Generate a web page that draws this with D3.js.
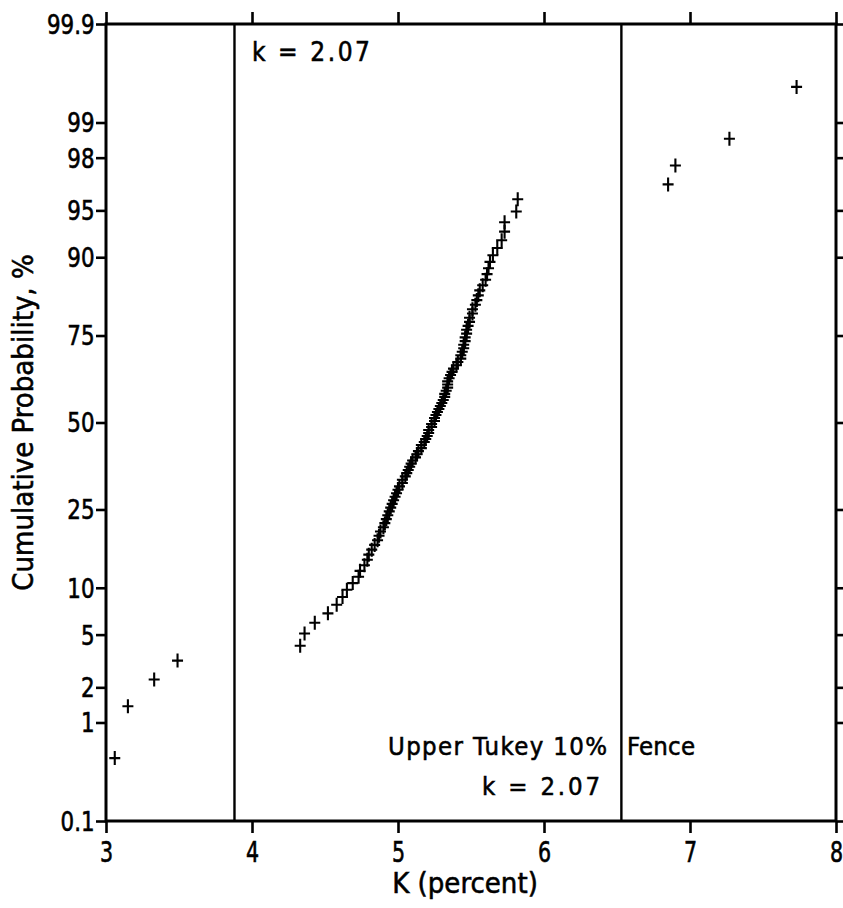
<!DOCTYPE html>
<html>
<head>
<meta charset="utf-8">
<script src="https://cdn.jsdelivr.net/npm/d3@7/dist/d3.min.js"></script>
<style>
  html, body { margin: 0; padding: 0; background: #fff; }
  svg { display: block; }
  text { font-family: "DejaVu Sans Condensed", "DejaVu Sans", sans-serif; font-stretch: condensed; fill: #000;
         stroke: #000; stroke-width: 0.55px; paint-order: stroke; }
</style>
</head>
<body>
<svg id="chart" width="843" height="908"></svg>
<script>
// ---- data ----
const probTicks = [0.1, 1, 2, 5, 10, 25, 50, 75, 90, 95, 98, 99, 99.9];
const probLabels = ["0.1", "1", "2", "5", "10", "25", "50", "75", "90", "95", "98", "99", "99.9"];
const xTicks = [3, 4, 5, 6, 7, 8];
const xTickLabels = ["3", "4", "5", "6", "7", "8"];
const fences = [3.88, 6.53];
// sorted sample of K (percent), n = 108
const kValues = [
  3.06, 3.15, 3.33, 3.49,
  4.33, 4.36, 4.43, 4.52, 4.58, 4.62, 4.65, 4.69, 4.73, 4.74,
  4.77, 4.79, 4.80, 4.82, 4.84, 4.86, 4.87, 4.88, 4.90, 4.91,
  4.92, 4.93, 4.94, 4.95, 4.96, 4.97, 4.98, 4.99, 5.00, 5.01,
  5.03, 5.03, 5.05, 5.06, 5.07, 5.08, 5.09, 5.10, 5.12, 5.13,
  5.14, 5.16, 5.16, 5.18, 5.19, 5.20, 5.21, 5.21, 5.23, 5.23,
  5.25, 5.25, 5.26, 5.27, 5.28, 5.29, 5.30, 5.31, 5.32, 5.32,
  5.33, 5.34, 5.34, 5.34, 5.35, 5.36, 5.37, 5.38, 5.40, 5.41,
  5.43, 5.43, 5.44, 5.45, 5.45, 5.46, 5.46, 5.47, 5.47, 5.48,
  5.49, 5.49, 5.51, 5.51, 5.53, 5.54, 5.55, 5.56, 5.58, 5.60,
  5.61, 5.62, 5.63, 5.65, 5.68, 5.71, 5.73, 5.73, 5.81, 5.82,
  6.85, 6.90, 7.27, 7.73
];
const annotTop = "k = 2.07";
const annotFence1 = "Upper Tukey 10%";
const annotFence2 = "Fence";
const annotFenceK = "k = 2.07";
const xTitle = "K (percent)";
const yTitle = "Cumulative Probability, %";

// ---- normal quantile (Acklam) ----
function probit(p) {
  const a = [-3.969683028665376e+01, 2.209460984245205e+02, -2.759285104469687e+02, 1.383577518672690e+02, -3.066479806614716e+01, 2.506628277459239e+00];
  const b = [-5.447609879822406e+01, 1.615858368580409e+02, -1.556989798598866e+02, 6.680131188771972e+01, -1.328068155288572e+01];
  const c = [-7.784894002430293e-03, -3.223964580411365e-01, -2.400758277161838e+00, -2.549732539343734e+00, 4.374664141464968e+00, 2.938163982698783e+00];
  const d = [7.784695709041462e-03, 3.224671290700398e-01, 2.445134137142996e+00, 3.754408661907416e+00];
  const pl = 0.02425, ph = 1 - pl;
  let q, r;
  if (p < pl) {
    q = Math.sqrt(-2 * Math.log(p));
    return (((((c[0]*q+c[1])*q+c[2])*q+c[3])*q+c[4])*q+c[5]) / ((((d[0]*q+d[1])*q+d[2])*q+d[3])*q+1);
  } else if (p <= ph) {
    q = p - 0.5; r = q*q;
    return (((((a[0]*r+a[1])*r+a[2])*r+a[3])*r+a[4])*r+a[5])*q / (((((b[0]*r+b[1])*r+b[2])*r+b[3])*r+b[4])*r+1);
  } else {
    q = Math.sqrt(-2 * Math.log(1 - p));
    return -(((((c[0]*q+c[1])*q+c[2])*q+c[3])*q+c[4])*q+c[5]) / ((((d[0]*q+d[1])*q+d[2])*q+d[3])*q+1);
  }
}

// ---- layout ----
const L = 106, R = 836, T = 24, B = 821;
const svg = d3.select("#chart");

const x = d3.scaleLinear().domain([3, 8]).range([L, R]);
const zScale = d3.scaleLinear().domain([probit(0.001), probit(0.999)]).range([B, T]);
const y = p => zScale(probit(p / 100));
// probability-axis scale object usable by d3.axis
const probScale = Object.assign(p => y(p), {
  domain: () => [0.1, 99.9],
  range: () => [B, T],
  copy: function () { return this; },
  ticks: () => probTicks,
  tickFormat: () => (d => d)
});

// plotting positions (Hazen) from ranks
const n = kValues.length;
const points = kValues.map((k, i) => ({ k, p: 100 * (i + 0.5) / n }));

// fences
svg.append("g").selectAll("line").data(fences).join("line")
  .attr("x1", d => x(d)).attr("x2", d => x(d))
  .attr("y1", T).attr("y2", B)
  .attr("stroke", "#000").attr("stroke-width", 2.4);

// axes
function styleAxis(g) {
  g.select(".domain").remove();
  g.selectAll(".tick line").attr("stroke", "#000").attr("stroke-width", 2.6);
}
const fmtX = (d, i) => xTickLabels[i];
svg.append("g").attr("transform", `translate(0,${B})`)
  .call(d3.axisBottom(x).tickValues(xTicks).tickSize(12).tickFormat(fmtX))
  .call(styleAxis)
  .call(g => g.selectAll("text").attr("font-size", 26).attr("dy", null)
              .attr("y", 36.6).attr("transform", "scale(0.88,1.12)"));
svg.append("g").attr("transform", `translate(0,${T})`)
  .call(d3.axisTop(x).tickValues(xTicks).tickSize(12).tickFormat(""))
  .call(styleAxis);
svg.append("g").attr("transform", `translate(${L},0)`)
  .call(d3.axisLeft(probScale).tickValues(probTicks).tickSize(10)
        .tickFormat((d, i) => probLabels[i]))
  .call(styleAxis)
  .call(g => g.selectAll("text").attr("font-size", 25).attr("dy", "0.36em")
              .attr("x", -11.5 / 0.95).attr("transform", "scale(0.95,1.05)"));
svg.append("g").attr("transform", `translate(${R},0)`)
  .call(d3.axisRight(probScale).tickValues(probTicks).tickSize(7).tickFormat(""))
  .call(styleAxis);

// frame
svg.append("rect").attr("x", L).attr("y", T).attr("width", R - L).attr("height", B - T)
  .attr("fill", "none").attr("stroke", "#000").attr("stroke-width", 3);

// points
svg.append("g").selectAll("path").data(points).join("path")
  .attr("transform", d => `translate(${x(d.k)},${y(d.p)})`)
  .attr("d", "M-5.5,0H5.5M0,-7V7")
  .attr("fill", "none").attr("stroke", "#000").attr("stroke-width", 2.1);

// annotations
svg.append("text").attr("x", 252).attr("y", 61).attr("font-size", 26)
  .attr("textLength", 118).attr("lengthAdjust", "spacing").text(annotTop);
svg.append("text").attr("x", 388).attr("y", 755).attr("font-size", 25.5)
  .attr("textLength", 219).attr("lengthAdjust", "spacing").text(annotFence1);
svg.append("text").attr("x", 627).attr("y", 755).attr("font-size", 25.5)
  .attr("textLength", 68).attr("lengthAdjust", "spacing").text(annotFence2);
svg.append("text").attr("x", 482).attr("y", 795).attr("font-size", 25.5)
  .attr("textLength", 118).attr("lengthAdjust", "spacing").text(annotFenceK);

// titles
svg.append("text").attr("x", 465).attr("y", 893).attr("text-anchor", "middle")
  .attr("font-size", 29).text(xTitle);
svg.append("text").attr("transform", `translate(33,${(T + B) / 2}) rotate(-90)`)
  .attr("text-anchor", "middle").attr("font-size", 29).text(yTitle);
</script>
</body>
</html>
